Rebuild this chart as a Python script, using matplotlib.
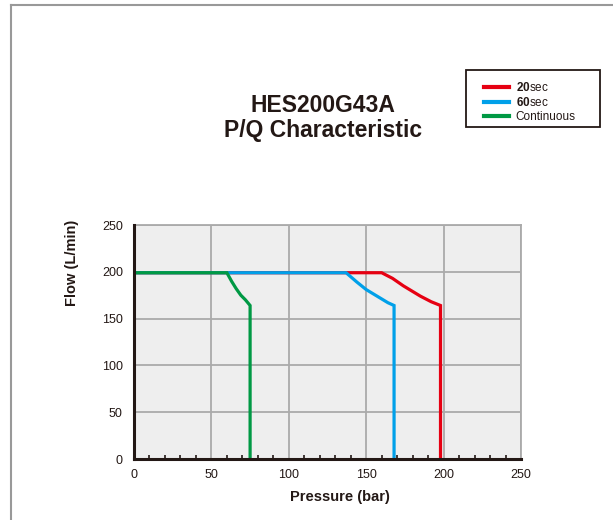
import matplotlib
matplotlib.use("Agg")
import matplotlib.pyplot as plt
from matplotlib.lines import Line2D
from matplotlib.patches import Rectangle
from matplotlib.ticker import MultipleLocator

plt.rcParams['font.family'] = ['Liberation Sans', 'DejaVu Sans']
plt.rcParams['mathtext.fontset'] = 'custom'
plt.rcParams['mathtext.rm'] = 'Liberation Sans'
plt.rcParams['mathtext.bf'] = 'Liberation Sans:bold'

# curves: pressure (bar), flow (L/min)
p_20 = [0, 160, 167, 174, 180, 185, 192, 198, 198]
q_20 = [199, 199, 193, 185, 179, 174, 168, 164, 0]
p_60 = [0, 137, 144, 150, 155, 159, 164, 168, 168]
q_60 = [199, 199, 189, 181, 176, 172, 167, 164, 0]
p_cont = [0, 60, 63, 66, 69, 72, 75, 75]
q_cont = [199, 199, 190, 182, 175, 170, 164, 0]

labels = [r"$\mathbf{20}$sec", r"$\mathbf{60}$sec", "Continuous"]
colors = ["#e60012", "#00a0e9", "#009944"]

fig = plt.figure(figsize=(6.13, 5.2), dpi=100)
ax = fig.add_axes([134 / 613, 1 - 459 / 520, 387 / 613, 234 / 520])
ax.set_facecolor("#eeeeee")

for p, q, c, lab in zip([p_20, p_60, p_cont], [q_20, q_60, q_cont], colors, labels):
    ax.plot(p, q, color=c, lw=2.3, label=lab, zorder=3, solid_joinstyle="miter")

ax.set_xlim(0, 250)
ax.set_ylim(0, 250)
ax.xaxis.set_major_locator(MultipleLocator(50))
ax.xaxis.set_minor_locator(MultipleLocator(10))
ax.yaxis.set_major_locator(MultipleLocator(50))
ax.grid(True, color="#aaaaaa", lw=1.3, zorder=1)
ax.set_axisbelow(True)

for s in ["top", "right"]:
    ax.spines[s].set_color("#aaaaaa")
    ax.spines[s].set_linewidth(1.3)
for s in ["left", "bottom"]:
    ax.spines[s].set_color("#231815")
    ax.spines[s].set_linewidth(2.2)
    ax.spines[s].set_zorder(4)

ax.tick_params(axis="x", which="major", direction="in", length=0, labelsize=9,
               colors="#231815", pad=7)
ax.tick_params(axis="x", which="minor", direction="in", length=3, width=1.2,
               color="#231815")
ax.tick_params(axis="y", which="major", length=0, labelsize=9,
               colors="#231815", pad=8)

fig.text(323 / 613, 1 - 105 / 520, "HES200G43A", ha="center", va="center",
         fontsize=16.5, fontweight="bold", color="#231815")
fig.text(323 / 613, 1 - 130 / 520, "P/Q Characteristic", ha="center", va="center",
         fontsize=16.5, fontweight="bold", color="#231815")
fig.text(72 / 613, 1 - 263 / 520, "Flow (L/min)", ha="center", va="center",
         rotation=90, fontsize=10.5, fontweight="bold", color="#231815")
fig.text(340 / 613, 1 - 497 / 520, "Pressure (bar)", ha="center", va="center",
         fontsize=10.5, fontweight="bold", color="#231815")

# legend box drawn separately so it can be wider than the entries
fig.add_artist(Rectangle((466 / 613, 1 - 127 / 520), 134 / 613, 57 / 520,
                         fill=False, edgecolor="#231815", lw=1.3))
leg = fig.legend(loc="upper left", bbox_to_anchor=(476 / 613, 1 - 73 / 520),
                 fontsize=8.5, frameon=False, handlelength=2.1,
                 handletextpad=0.55, labelspacing=0.15, borderpad=0.2,
                 labelcolor="#231815")
for h in leg.legend_handles:
    h.set_linewidth(3)

# outer frame of the page
fig.add_artist(Line2D([11 / 613, 1.0], [1 - 5 / 520, 1 - 5 / 520], color="#999999", lw=1.5))
fig.add_artist(Line2D([11 / 613, 11 / 613], [0, 1 - 5 / 520], color="#999999", lw=1.5))

fig.savefig("out.png", dpi=100)
